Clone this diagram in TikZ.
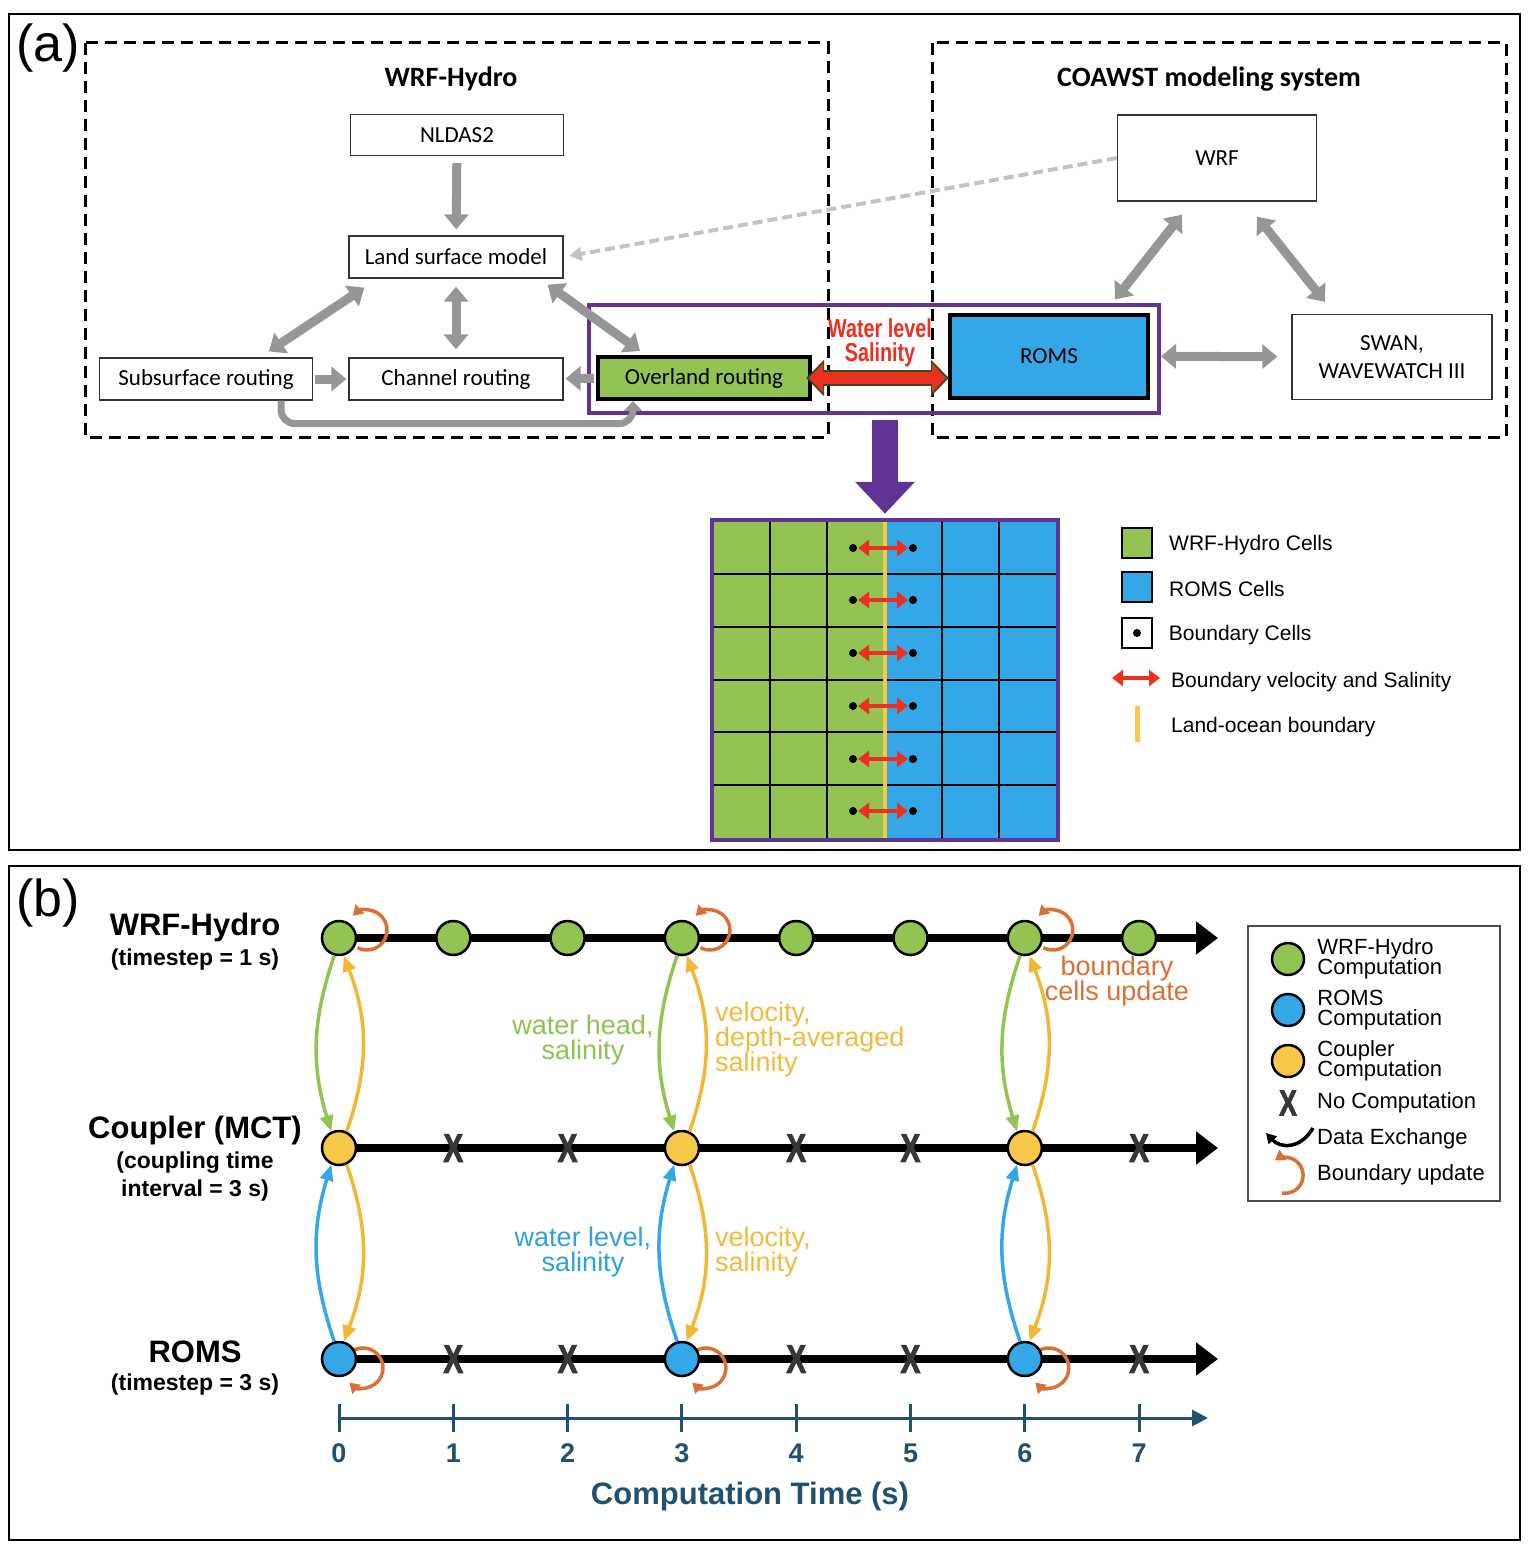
\documentclass[tikz,border=0pt]{standalone}
\usepackage{fontspec}
\setmainfont{Liberation Sans}
\newfontfamily\calfont{Carlito}
\newfontfamily\heavyfont[FakeBold=2.5]{Liberation Sans Bold}
\usepackage{graphicx}
\usepackage{xcolor}
\usepackage{tikz}
\usetikzlibrary{arrows.meta,positioning,backgrounds}
\definecolor{cfgreen}{RGB}{146,195,83}
\definecolor{cfblue}{RGB}{52,167,232}
\definecolor{cfyellow}{RGB}{248,200,72}
\definecolor{cfamber}{RGB}{242,184,52}
\definecolor{cforange}{RGB}{218,112,52}
\definecolor{cfpurple}{RGB}{96,52,146}
\definecolor{cfred}{RGB}{236,48,32}
\definecolor{cfedge}{RGB}{60,75,30}
\definecolor{cfgrey}{RGB}{150,150,150}
\definecolor{cflight}{RGB}{195,195,195}
\definecolor{cfaxis}{RGB}{32,82,112}
\definecolor{cfdark}{RGB}{55,55,55}
\definecolor{cfgtext}{RGB}{140,196,80}
\definecolor{cfbtext}{RGB}{48,160,222}
\definecolor{cfytext}{RGB}{242,186,60}
\newcommand{\fsz}[2]{\fontsize{#1}{#2}\selectfont\lineskiplimit=-50pt\relax}
\newcommand{\narrow}[1]{\scalebox{0.76}[1]{\bfseries #1}}
\newcommand{\nocross}{\scalebox{0.74}[1]{\heavyfont X}}

\tikzset{
  mbox/.style={draw=black!80, fill=white, line width=1.3pt, inner sep=0pt, font=\calfont\fsz{23}{28}},
  thickbox/.style={mbox, draw=black, line width=4pt},
  fatarr/.style={draw=cfgrey, line width=9pt, -{Triangle[length=15pt,width=24pt]}},
  fatboth/.style={fatarr, {Triangle[length=15pt,width=24pt]}-{Triangle[length=15pt,width=24pt]}},
  dashbox/.style={line width=3pt, dash pattern=on 12pt off 7pt},
  comp/.style={circle, draw=black, line width=2.5pt, minimum size=34, inner sep=0pt},
  nocomp/.style={font=\fsz{40}{40}, text=cfdark, inner sep=0pt},
  xch/.style={line width=3.5pt, -{Triangle[length=16pt,width=13pt]}},
  bloop/.style={draw=cforange, line width=3.5pt, -{Triangle[length=10pt,width=12pt]}},
  flowlab/.style={font=\fsz{27}{25}, align=center, inner sep=0pt},
  rowtitle/.style={font=\bfseries\fsz{31}{31}},
  rowsub/.style={font=\bfseries\fsz{23}{28}, align=center},
  legtext/.style={font=\fsz{21}{21}, anchor=west, inner sep=0pt},
  legb/.style={font=\fsz{22}{20}, anchor=west, align=left, inner sep=0pt},
  legsq/.style={draw=black, line width=2pt, minimum size=30, inner sep=0pt},
  redtips/.style={cfred, line width=4.5pt, {Triangle[length=11pt,width=16pt]}-{Triangle[length=11pt,width=16pt]}}
}

\begin{document}
\begin{tikzpicture}[x=1pt,y=-1pt]
\useasboundingbox (0,0) rectangle (1528,1544);

% panel frames
\draw[line width=2.5pt] (9,14) rectangle (1520,850);
\draw[line width=2.5pt] (9,866) rectangle (1520,1540);
\node[font=\fsz{52}{52}] (tagA) at (48,48) {(a)};
\node[font=\fsz{52}{52}] (tagB) at (48,903) {(b)};

% (a) model systems
\draw[dashbox] (85,43) rectangle (828,437);
\draw[dashbox] (932,43) rectangle (1506,437);
\draw[cfpurple, line width=3.5pt] (589,305) rectangle (1159,413);
\node[font=\calfont\bfseries\fsz{28}{28}] (hydrotitle) at (451,79) {WRF-Hydro};
\node[font=\calfont\bfseries\fsz{28}{28}] (coawsttitle) at (1209,79) {COAWST modeling system};

\node[mbox, minimum width=213, minimum height=41] (nldas) at (457,135) {NLDAS2};
\node[mbox, minimum width=214, minimum height=42] (lsm) at (456,257) {Land surface model};
\node[mbox, minimum width=213, minimum height=42] (subs) at (206,379) {Subsurface routing};
\node[mbox, minimum width=214, minimum height=42] (chan) at (456,379) {Channel routing};
\node[thickbox, fill=cfgreen, minimum width=212, minimum height=42] (over) at (704,378) {Overland routing};
\node[thickbox, fill=cfblue, minimum width=198, minimum height=83] (roms) at (1049,356) {ROMS};
\node[mbox, minimum width=199, minimum height=86] (wrf) at (1217,158) {WRF};
\node[mbox, minimum width=200, minimum height=85, align=center] (swan) at (1392,357) {SWAN,\\WAVEWATCH III};

\draw[fatarr, shorten <=7pt, shorten >=6pt] (nldas) -- (lsm);
\draw[fatboth] ([shift={(16,9)}]lsm.south west) -- ([shift={(170,-6)}]subs.north west);
\draw[fatboth, shorten <=8pt, shorten >=8pt] (lsm) -- (chan);
\draw[fatboth] ([shift={(-16,6)}]lsm.south east) -- ([shift={(44,-4)}]over.north west);
\draw[fatarr, shorten <=2pt, shorten >=2pt] (subs) -- (chan);
\draw[fatarr, shorten <=2pt, shorten >=2pt] (over) -- (chan);
\draw[draw=cfgrey, line width=7pt, rounded corners=14pt, -{Triangle[length=10pt,width=18pt]}]
  ([xshift=75]subs.south) -- ++(0,23) -| ([xshift=-71]over.south);
\draw[cflight, line width=4pt, dash pattern=on 10pt off 5pt, -{Triangle[length=12pt,width=14pt]}, shorten >=6pt]
  (wrf.west) -- (lsm.east);

% water level / salinity exchange
\draw[cfedge, line width=16pt, {Triangle[length=18pt,width=35pt]}-{Triangle[length=18pt,width=35pt]}, shorten <=-6pt, shorten >=-1pt]
  (over.east) -- (over.east -| roms.west);
\draw[cfred, line width=12pt, {Triangle[length=14pt,width=28pt]}-{Triangle[length=14pt,width=28pt]}, shorten <=-3pt, shorten >=2pt]
  (over.east) -- (over.east -| roms.west);
\node[font=\fsz{26}{24}, text=cfred, align=center] (wlab) at (880,343) {\narrow{Water level}\\\narrow{Salinity}};

\draw[fatboth] ([shift={(65,13)}]wrf.south west) -- ([shift={(66,-13)}]roms.north);
\draw[fatboth] ([shift={(40,15)}]wrf.south) -- ([shift={(-67,-12)}]swan.north);
\draw[fatboth, shorten <=11pt, shorten >=14pt] (roms) -- (swan);

% (a) boundary grid
\fill[cfgreen] (714,521) rectangle (885,839);
\fill[cfblue] (885,521) rectangle (1057,839);
\foreach \cx in {770,827,942,999}
    \draw[line width=2pt] (\cx,521) -- (\cx,839);
\foreach \cy in {574,627,680,732,785}
    \draw[line width=2pt] (714,\cy) -- (1057,\cy);
\draw[cfyellow, line width=4pt] (885,521) -- (885,839);
\foreach \cy in {548,600,653,706,759,811} {
    \fill (853,\cy) circle (4);
    \fill (913,\cy) circle (4);
    \draw[redtips] (858,\cy) -- (908,\cy);
}
\node[draw=cfpurple, line width=4.5pt, minimum width=346, minimum height=320, inner sep=0pt] (grid) at (885,680) {};
\coordinate (gridtop) at (885,420);
\draw[cfpurple, line width=26pt, -{Triangle[length=32pt,width=58pt]}, shorten >=4pt] (gridtop) -- (grid.north);

% (a) legend
\node[legsq, fill=cfgreen] (lgwrf) at (1137,543) {};
\node[legtext, right=16pt of lgwrf, yshift=-2pt] (ltwrf) {WRF-Hydro Cells};
\node[legsq, fill=cfblue] (lgroms) at (1137,587) {};
\node[legtext, right=16pt of lgroms, yshift=-2pt] (ltroms) {ROMS Cells};
\node[legsq, fill=white, line width=1.5pt] (lgbnd) at (1137,633) {};
\fill (lgbnd.center) circle (4);
\node[legtext, right=16pt of lgbnd, yshift=-2pt] (ltbnd) {Boundary Cells};
\coordinate (lrl) at (1112,678);
\coordinate (lrr) at (1160,678);
\draw[redtips, line width=3.5pt] (lrl) -- (lrr);
\node[legtext] (ltvel) at (1171,682) {Boundary velocity and Salinity};
\coordinate (lyt) at (1137,706);
\coordinate (lyb) at (1137,742);
\draw[cfyellow, line width=5pt] (lyt) -- (lyb);
\node[legtext] (ltlo) at (1171,727) {Land-ocean boundary};

% (b) time lines
\node[rowtitle] (twrf) at (195,927) {WRF-Hydro};
\node[rowsub] (swrf) at (195,960) {(timestep = 1 s)};
\node[rowtitle] (tcpl) at (195,1130) {Coupler (MCT)};
\node[rowsub] (scpl) at (195,1177) {(coupling time\\interval = 3 s)};
\node[rowtitle] (troms) at (195,1352) {ROMS};
\node[rowsub] (sroms) at (195,1385) {(timestep = 3 s)};

\foreach \i in {0,...,7}
    \node[comp, fill=cfgreen] (w\i) at (\i*114.3+339,938) {};
\foreach \i in {0,3,6} {
    \node[comp, fill=cfyellow] (c\i) at (\i*114.3+339,1148) {};
    \node[comp, fill=cfblue] (r\i) at (\i*114.3+339,1359) {};
}
\foreach \i in {1,2,4,5,7} {
    \node[nocomp] (c\i) at (\i*114.3+339,1148) {\nocross};
    \node[nocomp] (r\i) at (\i*114.3+339,1359) {\nocross};
}
\coordinate (wend) at (1218,938);
\coordinate (cend) at (1218,1148);
\coordinate (rend) at (1218,1359);

\begin{scope}[on background layer]
\foreach \r in {w,c,r}
    \draw[line width=8pt, -{Triangle[length=22pt,width=32pt]}] (\r0.center) -- (\r end);
\foreach \i in {0,3,6} {
    \draw[bloop] ([shift={(18.6,9.7)}]w\i.center) arc[start angle=118, end angle=-135, radius=20];
    \draw[bloop] ([shift={(13.4,-8)}]r\i.center) arc[start angle=-122, end angle=133, radius=20];
}
\end{scope}

\foreach \i in {0,3,6} {
    \draw[xch, cfgreen] (w\i.-105) to[bend right=18] (c\i.115);
    \draw[xch, cfamber] (c\i.65) to[bend right=20] (w\i.-75);
    \draw[xch, cfblue] (r\i.105) to[bend left=18] (c\i.-115);
    \draw[xch, cfamber] (c\i.-65) to[bend left=20] (r\i.75);
}

\node[flowlab, text=cfgtext] (lwh) at (583,1040) {water head,\\salinity};
\node[flowlab, text=cfytext, align=left, anchor=west] (lvd) at (715,1040) {velocity,\\depth-averaged\\salinity};
\node[flowlab, text=cfbtext] (lwl) at (583,1252) {water level,\\salinity};
\node[flowlab, text=cfytext, align=left, anchor=west] (lvs) at (715,1252) {velocity,\\salinity};
\node[flowlab, text=cforange] (lbu) at (1117,981) {boundary\\cells update};

% (b) time axis
\coordinate (ax0) at (339,1418);
\coordinate (axend) at (1208,1418);
\draw[cfaxis, line width=3pt, -{Triangle[length=16pt,width=16pt]}] (ax0) -- (axend);
\foreach \i in {0,...,7} {
    \draw[cfaxis, line width=3pt] (\i*114.3+339,1404) -- (\i*114.3+339,1432);
    \node[font=\bfseries\fsz{27}{27}, text=cfaxis] (tick\i) at (\i*114.3+339,1453) {\i};
}
\node[font=\bfseries\fsz{31}{31}, text=cfaxis] (axtitle) at (750,1496) {Computation Time (s)};

% (b) legend
\draw[draw=black!70, line width=1.5pt] (1248,926) rectangle (1500,1201);
\node[comp, fill=cfgreen, minimum size=32] (lgw) at (1288,959) {};
\node[legb, right=12pt of lgw] (ltw) {WRF-Hydro\\Computation};
\node[comp, fill=cfblue, minimum size=32] (lgr) at (1288,1010) {};
\node[legb, right=12pt of lgr] (ltr) {ROMS\\Computation};
\node[comp, fill=cfyellow, minimum size=32] (lgc) at (1288,1061) {};
\node[legb, right=12pt of lgc] (ltc) {Coupler\\Computation};
\node[nocomp, font=\fsz{36}{36}] (lgx) at (1288,1103) {\nocross};
\node[legb] (ltx) at (1317,1103) {No Computation};
\coordinate (dxa) at (1313,1128);
\coordinate (dxb) at (1266,1133);
\draw[line width=3.5pt, -{Triangle[length=10pt,width=11pt]}] (dxa) .. controls (1300,1150) and (1280,1148) .. (dxb);
\node[legb] (ltdx) at (1317,1139) {Data Exchange};
\draw[bloop] (1282,1193) arc[start angle=100, end angle=-125, radius=18];
\node[legb] (ltbu) at (1317,1175) {Boundary update};

\end{tikzpicture}
\end{document}
